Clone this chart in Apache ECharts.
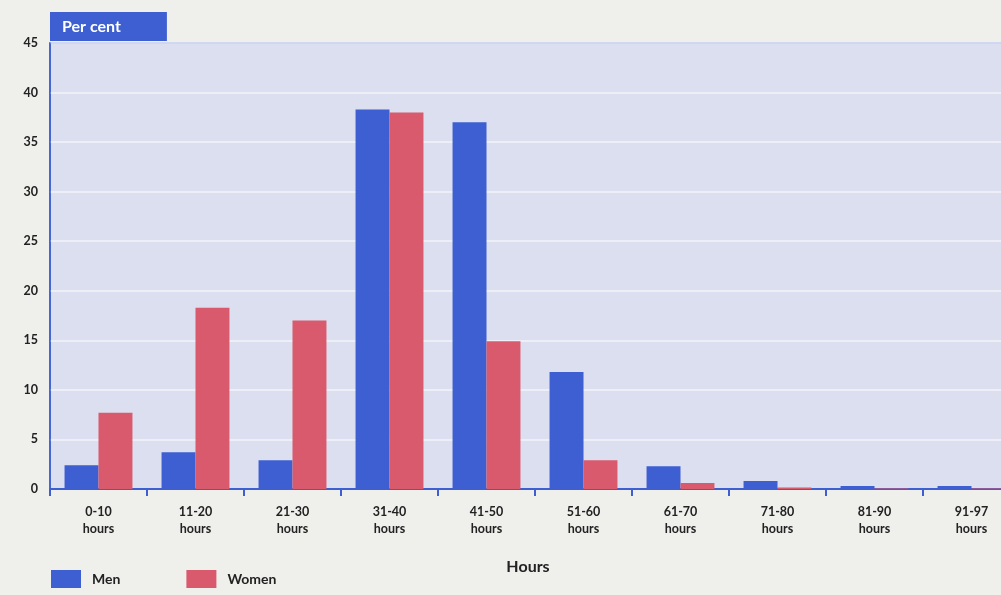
<!DOCTYPE html>
<html>
<head>
<meta charset="utf-8">
<script src="https://cdn.jsdelivr.net/npm/echarts@6/dist/echarts.min.js"></script>
<style>
  html, body { margin: 0; padding: 0; background: #efefec; overflow: hidden; }
  #chart { width: 1020px; height: 595px; }
</style>
</head>
<body>
<div id="chart"></div>
<script>
// Weekly hours worked, share of men and women in each band
const categories = ['0-10\nhours', '11-20\nhours', '21-30\nhours', '31-40\nhours', '41-50\nhours',
                    '51-60\nhours', '61-70\nhours', '71-80\nhours', '81-90\nhours', '91-97\nhours'];
const men   = [2.4, 3.7, 2.9, 38.3, 37.0, 11.8, 2.3, 0.8, 0.3, 0.3];
const women = [7.7, 18.3, 17.0, 38.0, 14.9, 2.9, 0.6, 0.15, 0.05, 0.05];
const yTicks = [0, 5, 10, 15, 20, 25, 30, 35, 40, 45];

const BLUE = '#3d5fd2';
const RED = '#d85a6c';
const FONT = 'Lato, "Open Sans", sans-serif';

const chart = echarts.init(document.getElementById('chart'));
chart.setOption({
  backgroundColor: '#efefec',
  animation: false,
  textStyle: { fontFamily: FONT },
  grid: {
    left: 50, right: 0, top: 43, bottom: 106,
    show: true, backgroundColor: '#dcdfef',
    borderColor: BLUE, borderWidth: 1.5
  },
  legend: {
    left: 46, bottom: 2,
    itemWidth: 30, itemHeight: 18, itemGap: 66,
    icon: 'rect',
    textStyle: { fontFamily: FONT, fontWeight: 'bold', fontSize: 14, color: '#222', padding: [2, 0, 0, 6] },
    data: ['Men', 'Women']
  },
  xAxis: {
    type: 'category',
    data: categories,
    name: 'Hours',
    nameLocation: 'middle',
    nameGap: 70,
    nameTextStyle: { fontFamily: FONT, fontWeight: 'bold', fontSize: 16, color: '#222', padding: [0, 14, 0, 0] },
    axisLine: { lineStyle: { color: BLUE, width: 2 } },
    axisTick: { show: true, length: 7, lineStyle: { color: BLUE, width: 2 } },
    axisLabel: { fontFamily: FONT, fontWeight: 'bold', fontSize: 12.5, color: '#222', margin: 14, lineHeight: 17 }
  },
  yAxis: {
    type: 'value',
    min: 0, max: 45, interval: 5,
    name: 'Per cent',
    nameLocation: 'end',
    nameGap: 2,
    nameTextStyle: {
      align: 'left', verticalAlign: 'bottom',
      fontFamily: FONT, fontWeight: 'bold', fontSize: 16, color: '#ffffff',
      backgroundColor: BLUE, padding: [7, 46, 6, 12]
    },
    axisLine: { show: true, lineStyle: { color: BLUE, width: 1.5 } },
    axisTick: { show: false },
    axisLabel: {
      fontFamily: FONT, fontWeight: 'bold', fontSize: 12.5, color: '#222', margin: 12,
      formatter: v => (yTicks.includes(v) ? String(v) : '')
    },
    splitLine: { lineStyle: { color: '#f4f4f8', width: 1.5 } }
  },
  series: [
    { name: 'Men', type: 'bar', data: men, barGap: '0%', barCategoryGap: '30%',
      itemStyle: { color: BLUE } },
    { name: 'Women', type: 'bar', data: women,
      itemStyle: { color: RED } }
  ]
});
</script>
</body>
</html>
